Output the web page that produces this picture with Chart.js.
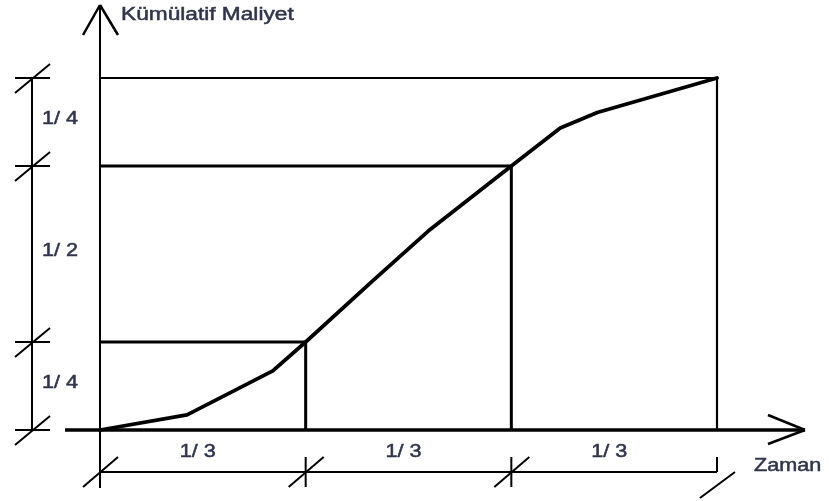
<!DOCTYPE html>
<html>
<head>
<meta charset="utf-8">
<script src="https://cdn.jsdelivr.net/npm/chart.js@4/dist/chart.umd.min.js"></script>
<style>
  html, body { margin: 0; padding: 0; background: #fff; }
  canvas { display: block; }
</style>
</head>
<body>
<canvas id="scurve" width="829" height="501"></canvas>
<script>
// time split in thirds, cost split 1/4 - 1/2 - 1/4
const timeTicks = [0, 1 / 3, 2 / 3, 1];
const costLevels = [0, 0.25, 0.75, 1];
const timeSpanLabels = ["1/ 3", "1/ 3", "1/ 3"];
const costSpanLabels = ["1/ 4", "1/ 2", "1/ 4"];
const yAxisTitle = "Kümülatif Maliyet";
const xAxisTitle = "Zaman";

// cumulative cost curve (S-curve)
const curveTime = [0, 0.141, 0.280, 1 / 3, 0.441, 0.532, 2 / 3, 0.746, 0.806, 1];
const curveCost = [0, 0.043, 0.168, 0.25, 0.422, 0.565, 0.75, 0.858, 0.902, 1];

const INK = "#000";
const TEXT = "#30354a";
const FONT = "18px 'Liberation Sans', Arial, sans-serif";

function guideData(i) {
    return [
        {x: 0, y: costLevels[i]},
        {x: timeTicks[i], y: costLevels[i]},
        {x: timeTicks[i], y: 0}
    ];
}

const guideSets = [1, 2, 3].map(i => ({
    data: guideData(i),
    showLine: true,
    borderColor: INK,
    borderWidth: i === 3 ? 2.2 : 3,
    pointRadius: 0,
    borderJoinStyle: "miter",
    clip: false
}));

const curveSet = {
    data: curveTime.map((t, i) => ({x: t, y: curveCost[i]})),
    showLine: true,
    borderColor: INK,
    borderWidth: 3.8,
    pointRadius: 0,
    tension: 0,
    borderJoinStyle: "round",
    borderCapStyle: "round",
    clip: false
};

function line(ctx, x1, y1, x2, y2, w) {
    ctx.lineWidth = w;
    ctx.beginPath();
    ctx.moveTo(x1, y1);
    ctx.lineTo(x2, y2);
    ctx.stroke();
}

// the lettering is a bit wide and heavy: stretch it and give it a thin outline
function wideText(ctx, text, x, y, align, sx = 1.2) {
    const w = ctx.measureText(text).width * sx;
    let left = x;
    if (align === "center") left = x - w / 2;
    ctx.save();
    ctx.translate(left, y);
    ctx.scale(sx, 1);
    ctx.textAlign = "left";
    ctx.fillText(text, 0, 0);
    ctx.strokeStyle = TEXT;
    ctx.lineWidth = 0.5;
    ctx.strokeText(text, 0, 0);
    ctx.restore();
}

const diagram = {
    id: "diagram",
    afterDraw(chart) {
        const ctx = chart.ctx;
        const xs = chart.scales.x;
        const ys = chart.scales.y;
        const x0 = xs.getPixelForValue(0);
        const y0 = ys.getPixelForValue(0);

        ctx.save();
        ctx.strokeStyle = INK;
        ctx.lineCap = "butt";

        // axes with open arrow heads
        line(ctx, x0, 5, x0, 488, 2);
        line(ctx, x0 - 17, 35, x0, 5, 2.5);
        line(ctx, x0 + 18, 35, x0, 5, 2.5);
        line(ctx, x0 - 35, y0, 805, y0, 3.5);
        line(ctx, 768, y0 - 15, 805, y0, 2.5);
        line(ctx, 768, y0 + 14, 805, y0, 2.5);

        // vertical dimension line on the left
        const dimX = 32;
        const topY = ys.getPixelForValue(costLevels[costLevels.length - 1]);
        line(ctx, dimX, topY, dimX, y0, 2);
        costLevels.forEach(c => {
            const py = ys.getPixelForValue(c);
            line(ctx, dimX - 17, py, dimX + 18, py, 2);
            line(ctx, dimX - 17, py + 15, dimX + 18, py - 14, 2);
        });

        // horizontal dimension line below
        const dimY = 472;
        const lastX = xs.getPixelForValue(timeTicks[timeTicks.length - 1]);
        line(ctx, x0, dimY, lastX, dimY, 2);
        timeTicks.forEach((t, i) => {
            const px = xs.getPixelForValue(t);
            if (i === timeTicks.length - 1) {
                line(ctx, px, dimY - 15, px, dimY, 2);
                line(ctx, px - 17, dimY + 26, px + 18, dimY, 2);
            } else {
                line(ctx, px, dimY - 15, px, dimY + 15, 2);
                line(ctx, px - 17, dimY + 15, px + 18, dimY - 15, 2);
            }
        });

        // labels
        ctx.fillStyle = TEXT;
        ctx.font = FONT;
        ctx.textBaseline = "middle";
        costSpanLabels.forEach((lab, i) => {
            const a = ys.getPixelForValue(costLevels[i]);
            const b = ys.getPixelForValue(costLevels[i + 1]);
            wideText(ctx, lab, 42, (a + b) / 2 - 3, "left");
        });
        timeSpanLabels.forEach((lab, i) => {
            const a = xs.getPixelForValue(timeTicks[i]);
            const b = xs.getPixelForValue(timeTicks[i + 1]);
            wideText(ctx, lab, (a + b) / 2 - 5, 452, "center");
        });
        wideText(ctx, yAxisTitle, 121, 15, "left", 1.26);
        wideText(ctx, xAxisTitle, 754, 466, "left");
        ctx.restore();
    }
};

new Chart(document.getElementById("scurve"), {
    type: "scatter",
    data: {datasets: [...guideSets, curveSet]},
    options: {
        responsive: false,
        animation: false,
        layout: {padding: {left: 100, right: 112, top: 78, bottom: 71}},
        scales: {
            x: {type: "linear", min: 0, max: 1, display: false},
            y: {type: "linear", min: 0, max: 1, display: false}
        },
        plugins: {legend: {display: false}, tooltip: {enabled: false}}
    },
    plugins: [diagram]
});
</script>
</body>
</html>
